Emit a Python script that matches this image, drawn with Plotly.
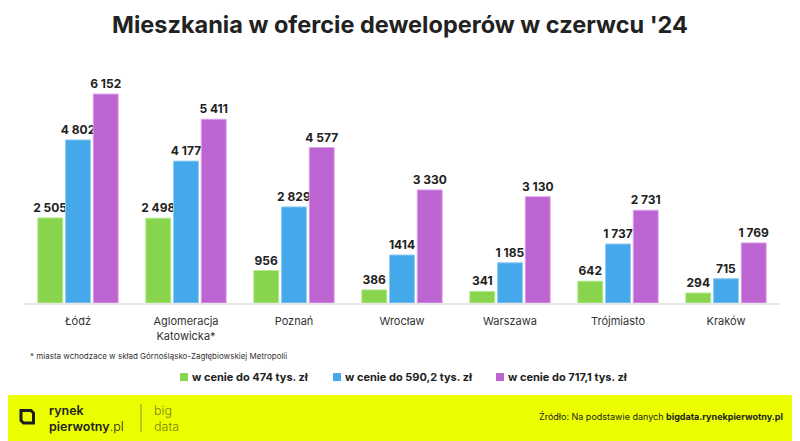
import plotly.graph_objects as go

categories = ["Łódź", "Aglomeracja<br>Katowicka*", "Poznań", "Wrocław", "Warszawa", "Trójmiasto", "Kraków"]
series_names = ["w cenie do 474 tys. zł", "w cenie do 590,2 tys. zł", "w cenie do 717,1 tys. zł"]
green_vals = [2505, 2498, 956, 386, 341, 642, 294]
blue_vals = [4802, 4177, 2829, 1414, 1185, 1737, 715]
purple_vals = [6152, 5411, 4577, 3330, 3130, 2731, 1769]
green_labels = ["2 505", "2 498", "956", "386", "341", "642", "294"]
blue_labels = ["4 802", "4 177", "2 829", "1414", "1 185", "1 737", "715"]
purple_labels = ["6 152", "5 411", "4 577", "3 330", "3 130", "2 731", "1 769"]

colors = ["#88d44d", "#45a8ea", "#bd64d3"]
edge = ["#b6e88f", "#92cdf3", "#dca5e8"]
FONT = "Inter"

# page body has an 8px margin, so target pixel p maps to figure pixel p-8
H = 233.0
def py(pix):
    return (303 - pix) / H
def fx(pix):
    return (pix - 24) / 756.0

fig = go.Figure()
for name, vals, labs, c, e in zip(series_names, [green_vals, blue_vals, purple_vals],
                                  [green_labels, blue_labels, purple_labels], colors, edge):
    fig.add_trace(go.Bar(
        x=categories, y=vals, name=name, text=labs, textposition="outside",
        marker=dict(color=c, line=dict(color=e, width=1)),
        textfont=dict(family=FONT, size=12, color="#222222", weight="bold"),
        cliponaxis=False, showlegend=False,
    ))

legend_x = [180, 333, 496]
shapes = [
    dict(type="rect", xref="paper", yref="paper", x0=-0.1, x1=1.1,
         y0=py(460), y1=py(395), fillcolor="#ebff00", line=dict(width=0), layer="below"),
    dict(type="line", xref="paper", yref="paper",
         x0=fx(141), x1=fx(141), y0=py(432), y1=py(404),
         line=dict(color="#8a8f20", width=1)),
    dict(type="path", xref="paper", yref="paper",
         path=f"M {fx(21)} {py(410.5)} L {fx(31)} {py(410.5)} L {fx(33.5)} {py(413)} "
              f"L {fx(33.5)} {py(423)} L {fx(23.5)} {py(423)} L {fx(21)} {py(420.5)} Z",
         line=dict(color="#1e1e1e", width=3), fillcolor="rgba(0,0,0,0)"),
]
annotations = [
    dict(text="* miasta wchodzace w skład Górnośląsko-Zagłębiowskiej Metropolii",
         xref="paper", yref="paper", x=fx(28), y=py(356), xanchor="left", yanchor="middle",
         showarrow=False, font=dict(family=FONT, size=8, color="#333333")),
    dict(text="rynek<br>pierwotny<span style='font-weight:300'>.pl</span>",
         xref="paper", yref="paper", x=fx(47), y=py(418), xanchor="left", yanchor="middle",
         align="left", showarrow=False,
         font=dict(family=FONT, size=12.5, color="#1e1e1e", weight=600)),
    dict(text="big<br>data", xref="paper", yref="paper", x=fx(152), y=py(418), xanchor="left",
         yanchor="middle", align="left", showarrow=False,
         font=dict(family=FONT, size=12.5, color="#7d8215", weight=300)),
    dict(text="Źródło: Na podstawie danych <b>bigdata.rynekpierwotny.pl</b>",
         xref="paper", yref="paper", x=fx(785), y=py(416), xanchor="right", yanchor="middle",
         showarrow=False, font=dict(family=FONT, size=9, color="#1e1e1e")),
]
for lx, name, c in zip(legend_x, series_names, colors):
    shapes.append(dict(type="rect", xref="paper", yref="paper", x0=fx(lx), x1=fx(lx + 8),
                       y0=py(381), y1=py(373), fillcolor=c, line=dict(width=0)))
    annotations.append(dict(text=name, xref="paper", yref="paper", x=fx(lx + 10), y=py(377),
                            xanchor="left", yanchor="middle", showarrow=False,
                            font=dict(family=FONT, size=11, color="#222222", weight="bold")))

fig.update_layout(
    width=800, height=441,
    margin=dict(l=16, r=28, t=62, b=146, autoexpand=False),
    paper_bgcolor="white", plot_bgcolor="white",
    barmode="group", bargap=0.23, bargroupgap=0.1,
    uniformtext=dict(minsize=12, mode="show"),
    title=dict(text="<b>Mieszkania w ofercie deweloperów w czerwcu '24</b>",
               x=fx(400), xanchor="center", xref="paper", y=1 - 17 / 441, yanchor="middle",
               font=dict(family=FONT, size=23.5, color="#222222")),
    xaxis=dict(showgrid=False, showline=True, linecolor="#e6e6e6", linewidth=2,
               ticks="", ticklabelstandoff=7,
               tickfont=dict(family=FONT, size=11, color="#333333")),
    yaxis=dict(range=[0, 6859], visible=False, showgrid=False),
    shapes=shapes,
    annotations=annotations,
)

fig.write_html("out.html")
